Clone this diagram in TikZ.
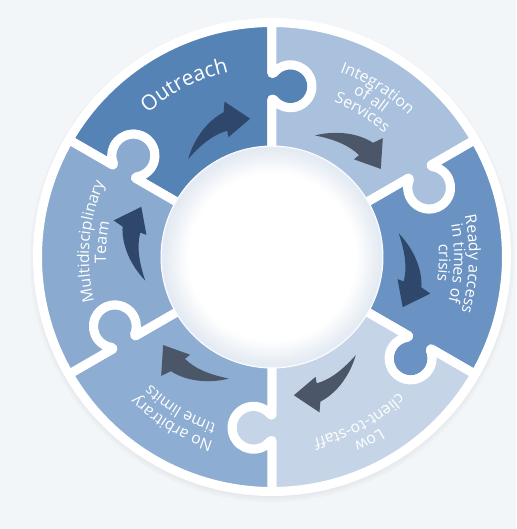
\documentclass[tikz,border=0pt]{standalone}
\usepackage{fontspec}
\setmainfont{Open Sans}
\usetikzlibrary{calc,decorations.text}

\definecolor{bgcol}{HTML}{F3F6F9}
\definecolor{rimcol}{HTML}{E2E9F1}
\definecolor{cOut}{HTML}{5583B5}
\definecolor{cInt}{HTML}{A9C1DD}
\definecolor{cRea}{HTML}{6A92C2}
\definecolor{cLow}{HTML}{C5D5E7}
\definecolor{cNoa}{HTML}{8DADD2}
\definecolor{cMul}{HTML}{8AAACF}
\definecolor{aDark}{HTML}{2E476A}
\definecolor{aGrey}{HTML}{4B5669}

\pgfdeclareradialshading{hollow}{\pgfpoint{0bp}{0bp}}{color(0bp)=(white); color(19bp)=(white); color(25bp)=(rimcol); color(50bp)=(rimcol)}

% ring radii (cm)
\def\rin{2.14}
\def\rout{4.69}
\def\rmid{3.415}
% knob: radius, neck half width, offset from the seam
\def\kr{0.43}
\def\kh{0.26}
\def\kd{0.37}
\pgfmathsetmacro{\ka}{acos(\kh/\kr)}
\pgfmathsetmacro{\kl}{\kd-sqrt(\kr*\kr-\kh*\kh)}
\pgfmathsetmacro{\kpo}{\rmid+\kh}
\pgfmathsetmacro{\kpi}{\rmid-\kh}
\pgfmathsetmacro{\kaa}{-180-\ka}
\pgfmathsetmacro{\kha}{240-\ka}
\pgfmathsetmacro{\khb}{420+\ka}

\newcommand{\bigt}{\color{white}\fontsize{12}{13}\selectfont}
\newcommand{\smallt}{\color{white}\fontsize{9}{10}\selectfont}

\begin{document}
\begin{tikzpicture}[
    piece/.style={fill=#1, draw=white, line width=0.18cm, line join=round},
    ringtext/.style={decorate, decoration={text along path, text align=center, text={#1}}}
  ]
  \fill[bgcol] (-5.44,-5.44) rectangle (4.88,5.14);
  \useasboundingbox (-5.44,-5.44) rectangle (4.88,5.14);
  % soft shadow under the ring
  \foreach \i in {1,...,4}
    \fill[black, opacity=0.018] (0,-0.06) circle[radius=4.64+0.05*\i];

  % the six puzzle pieces, each with a knob into its clockwise neighbour
  \foreach \b/\col/\acol in {90/cOut/aDark, 30/cInt/aGrey, -30/cRea/aDark,
                             -90/cLow/aGrey, -150/cNoa/aGrey, 150/cMul/aDark}{
    \begin{scope}[rotate=\b]
      \path[piece=\col] (60:\rout) arc[start angle=60, end angle=0, radius=\rout]
        -- (\kpo,0) -- (\kpo,-\kl) arc[start angle=\ka, end angle=\kaa, radius=\kr]
        -- (\kpi,0) -- (\rin,0) arc[start angle=0, end angle=60, radius=\rin]
        -- (60:\kpi) -- ($(60:\kpi)+(-30:\kl)$) arc[start angle=\kha, end angle=\khb, radius=\kr]
        -- (60:\kpo) -- cycle;
      % curved arrow
      \fill[\acol] (40.5:2.58) .. controls (33:2.85) and (25:3.02) .. (18.5:3.05)
        -- (17:3.25) -- (9:2.8) -- (20:2.55) -- (19.5:2.68)
        .. controls (26:2.72) and (33:2.65) .. cycle;
    \end{scope}
  }

  % centre
  \shade[shading=hollow] (0,0) circle[radius=2.2];
  \draw[cInt!25, line width=0.6pt] (0,0) circle[radius=2.2];

  % texts
  \path[ringtext={|\bigt|Outreach}] (187:3.8) arc[start angle=187, end angle=47, radius=3.8];
  \path[ringtext={|\smallt|Integration}] (128:3.94) arc[start angle=128, end angle=-12, radius=3.94];
  \path[ringtext={|\smallt|of all}] (128:3.64) arc[start angle=128, end angle=-12, radius=3.64];
  \path[ringtext={|\smallt|Services}] (128:3.34) arc[start angle=128, end angle=-12, radius=3.34];
  \path[ringtext={|\smallt|Ready access}] (68:3.94) arc[start angle=68, end angle=-72, radius=3.94];
  \path[ringtext={|\smallt|in times of}] (68:3.64) arc[start angle=68, end angle=-72, radius=3.64];
  \path[ringtext={|\smallt|crisis}] (68:3.34) arc[start angle=68, end angle=-72, radius=3.34];
  \path[ringtext={|\smallt|Low}] (8:4.06) arc[start angle=8, end angle=-132, radius=4.06];
  \path[ringtext={|\smallt|client-to-staff}] (8:3.72) arc[start angle=8, end angle=-132, radius=3.72];
  \path[ringtext={|\smallt|No arbitrary}] (-51:3.86) arc[start angle=-51, end angle=-191, radius=3.86];
  \path[ringtext={|\smallt|time limits}] (-51:3.52) arc[start angle=-51, end angle=-191, radius=3.52];
  \path[ringtext={|\smallt|Multidisciplinary}] (245:3.66) arc[start angle=245, end angle=105, radius=3.66];
  \path[ringtext={|\smallt|Team}] (245:3.32) arc[start angle=245, end angle=105, radius=3.32];
\end{tikzpicture}
\end{document}
